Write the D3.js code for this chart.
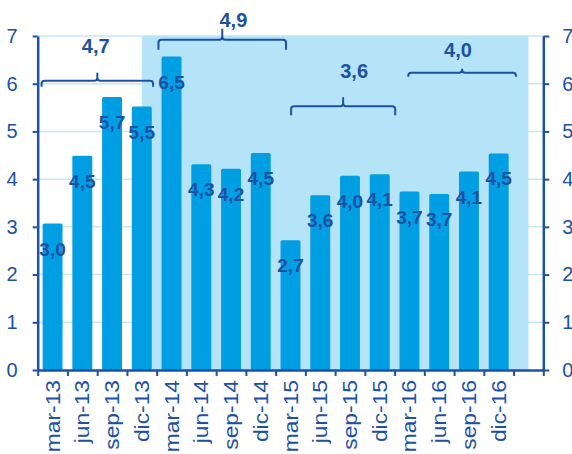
<!DOCTYPE html>
<html>
<head>
<meta charset="utf-8">
<script src="https://cdn.jsdelivr.net/npm/d3@7/dist/d3.min.js"></script>
<style>
  body { margin: 0; background: #fff; }
  svg { display: block; font-family: "Liberation Sans", Arial, sans-serif; }
</style>
</head>
<body>
<div id="place"></div>
<script>
// trimestres (la 17e case reste vide)
const categories = ["mar-13", "jun-13", "sep-13", "dic-13", "mar-14", "jun-14", "sep-14", "dic-14",
  "mar-15", "jun-15", "sep-15", "dic-15", "mar-16", "jun-16", "sep-16", "dic-16", ""];
const valeurs = [3.07, 4.49, 5.72, 5.52, 6.57, 4.31, 4.22, 4.55,
  2.72, 3.66, 4.07, 4.10, 3.74, 3.69, 4.16, 4.54];
const etiquettes = ["3,0", "4,5", "5,7", "5,5", "6,5", "4,3", "4,2", "4,5",
  "2,7", "3,6", "4,0", "4,1", "3,7", "3,7", "4,1", "4,5"];
const yTicks = [0, 1, 2, 3, 4, 5, 6, 7];

// zone ombrée (en unités de catégorie)
const zone = [3.5, 16.5];

// accolades : début, fin, niveau, texte, position du texte
const accDebut = [0.13, 4.06, 8.52, 12.46];
const accFin = [3.88, 8.35, 12.02, 16.08];
const accNiveau = [6.06, 6.92, 5.53, 6.23];
const accTexte = ["4,7", "4,9", "3,6", "4,0"];
const accTexteX = [1.95, 6.58, 10.64, 14.13];
const accTexteY = [6.65, 7.18, 6.11, 6.57];
const accBas = [6, 10, 9, 4];
const accHaut = [8, 11, 9, 4];

const W = 572, H = 454;
const mLeft = 37.7, mRight = 543.3, mTop = 36, mBottom = 370;
const bleu = "#009FE3", fonce = "#1C51A3", clair = "#B5E3F7", grille = "#C3E7F7";

const svg = d3.select("#place").append("svg").attr("width", W).attr("height", H);

const x = d3.scaleBand().domain(categories).range([mLeft, mRight])
  .paddingInner(0.33).paddingOuter(0.165);
const xLin = d3.scaleLinear().domain([0, categories.length]).range([mLeft, mRight]);
const y = d3.scaleLinear().domain([0, 7]).range([mBottom, mTop]);

// grille
svg.append("g").selectAll("line").data(yTicks.slice(1)).enter().append("line")
  .attr("x1", mLeft).attr("x2", mRight)
  .attr("y1", d => y(d)).attr("y2", d => y(d))
  .attr("stroke", grille).attr("stroke-width", 1.5);

// zone ombrée
svg.append("rect")
  .attr("x", xLin(zone[0])).attr("y", y(7))
  .attr("width", xLin(zone[1]) - xLin(zone[0])).attr("height", y(0) - y(7))
  .attr("fill", clair);

// barres
svg.append("g").selectAll("rect").data(valeurs).enter().append("rect")
  .attr("x", (d, i) => x(categories[i]))
  .attr("y", d => y(d))
  .attr("width", x.bandwidth())
  .attr("height", d => y(0) - y(d))
  .attr("rx", 1.5)
  .attr("fill", bleu);

// étiquettes des barres
svg.append("g").selectAll("text").data(valeurs).enter().append("text")
  .attr("x", (d, i) => x(categories[i]) + x.bandwidth() / 2)
  .attr("y", d => y(d) + 32)
  .attr("text-anchor", "middle")
  .attr("font-size", 19).attr("font-weight", "bold")
  .attr("fill", fonce)
  .text((d, i) => etiquettes[i]);

// accolades
accTexte.forEach((t, i) => {
  const x0 = xLin(accDebut[i]), x1 = xLin(accFin[i]), yb = y(accNiveau[i]);
  const xm = (x0 + x1) / 2, r = 3;
  const p = d3.path();
  p.moveTo(x0, yb + accBas[i]);
  p.lineTo(x0, yb + r);
  p.quadraticCurveTo(x0, yb, x0 + r, yb);
  p.lineTo(xm - r, yb);
  p.quadraticCurveTo(xm, yb, xm, yb - r);
  p.lineTo(xm, yb - accHaut[i]);
  p.moveTo(xm, yb - r);
  p.quadraticCurveTo(xm, yb, xm + r, yb);
  p.lineTo(x1 - r, yb);
  p.quadraticCurveTo(x1, yb, x1, yb + r);
  p.lineTo(x1, yb + accBas[i]);
  svg.append("path").attr("d", p.toString())
    .attr("fill", "none").attr("stroke", fonce).attr("stroke-width", 2);
  svg.append("text")
    .attr("x", xLin(accTexteX[i])).attr("y", y(accTexteY[i]))
    .attr("text-anchor", "middle")
    .attr("font-size", 20).attr("font-weight", "bold")
    .attr("fill", fonce)
    .text(t);
});

// axes
const axeG = svg.append("g")
  .attr("transform", "translate(" + mLeft + ",0)")
  .call(d3.axisLeft(y).tickValues(yTicks).tickFormat(d3.format("d"))
    .tickSize(5).tickPadding(15).tickSizeOuter(0));

const axeD = svg.append("g")
  .attr("transform", "translate(" + mRight + ",0)")
  .call(d3.axisRight(y).tickValues(yTicks).tickFormat(d3.format("d"))
    .tickSize(6).tickPadding(13).tickSizeOuter(0));

const axeX = svg.append("g")
  .attr("transform", "translate(0," + mBottom + ")")
  .call(d3.axisBottom(xLin).tickValues(d3.range(categories.length + 1))
    .tickFormat("").tickSize(6).tickSizeOuter(0));

[axeG, axeD, axeX].forEach(g => {
  g.select(".domain").attr("stroke", fonce).attr("stroke-width", 2.5);
  g.selectAll(".tick line").attr("stroke", fonce).attr("stroke-width", 2);
  g.selectAll(".tick text").attr("fill", fonce).attr("font-size", 20)
    .attr("font-family", "Liberation Sans, Arial, sans-serif");
});

// libellés de l'axe des x
svg.append("g").selectAll("text").data(categories.filter(c => c !== "")).enter().append("text")
  .attr("transform", d => "translate(" + (x(d) + x.bandwidth() / 2) + "," + (mBottom + 10) + ") rotate(-90) scale(1.14,1)")
  .attr("dy", "0.35em")
  .attr("text-anchor", "end")
  .attr("font-size", 20)
  .attr("fill", fonce)
  .text(d => d);
</script>
</body>
</html>
